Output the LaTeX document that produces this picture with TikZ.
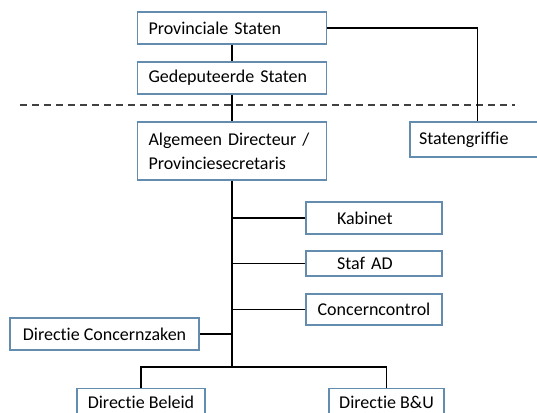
\documentclass[tikz,border=0pt]{standalone}
\usepackage{fontspec}
\setmainfont{Carlito}[Ligatures={NoCommon}]
\definecolor{boxblue}{RGB}{100,140,175}
\begin{document}
\begin{tikzpicture}[x=1pt,y=-1pt,
  box/.style={draw=boxblue,line width=1.4pt,fill=white,inner sep=0pt,
    font=\fontsize{18}{24}\selectfont,text=black},
  conn/.style={line width=1.6pt,black}]
\useasboundingbox[fill=white] (0,0) rectangle (537,412);
% top boxes
\node[box,minimum width=189pt,minimum height=32pt,text width=167pt,align=left] (ps) at (232,28) {Provinciale Staten};
\node[box,minimum width=189pt,minimum height=32pt,text width=167pt,align=left] (gs) at (232,78) {Gedeputeerde Staten};
\node[box,minimum width=189pt,minimum height=58pt,text width=167pt,align=left] (ad) at (232,151) {Algemeen Directeur /\\Provinciesecretaris};
\node[box,minimum width=135pt,minimum height=35pt,text width=117pt,align=left] (sg) at (477.5,139.5) {Statengriffie};
% staff boxes
\node[box,minimum width=136pt,minimum height=32pt,text width=106pt,align=left] (kab) at (374,218) {\hspace*{16pt}Kabinet};
\node[box,minimum width=136pt,minimum height=25pt,text width=106pt,align=left] (staf) at (374,263.5) {\hspace*{16pt}Staf AD};
\node[box,minimum width=136pt,minimum height=31pt] (cc) at (374,309.5) {Concerncontrol};
\node[box,minimum width=189pt,minimum height=32pt] (dcz) at (104.5,334) {Directie Concernzaken};
% bottom boxes
\node[box,minimum width=128pt,minimum height=28pt,anchor=north] (db) at (141,388) {Directie Beleid};
\node[box,minimum width=115pt,minimum height=28pt,anchor=north] (dbu) at (386.5,388) {Directie B\&U};
% dashed separator
\coordinate (dl) at (20,105);
\coordinate (dr) at (515,105);
\draw[line width=1.3pt,black!75,dash pattern=on 7pt off 5pt] (dl) -- (dr);
% connectors
\coordinate (tb) at (232,367);
\coordinate (bl) at (141,367);
\coordinate (br) at (386.5,367);
\draw[conn] (ps) -- (gs);
\draw[conn] (gs) -- (ad);
\draw[conn] (ps.east) -| (sg.north);
\draw[conn] (ad.south) -- (tb);
\draw[conn] (kab.west) -- (kab.west -| tb);
\draw[conn] (staf.west) -- (staf.west -| tb);
\draw[conn] (cc.west) -- (cc.west -| tb);
\draw[conn] (dcz.east) -- (dcz.east -| tb);
\draw[conn] (db.north) -- (bl) -- (br) -- (dbu.north);
\end{tikzpicture}
\end{document}
